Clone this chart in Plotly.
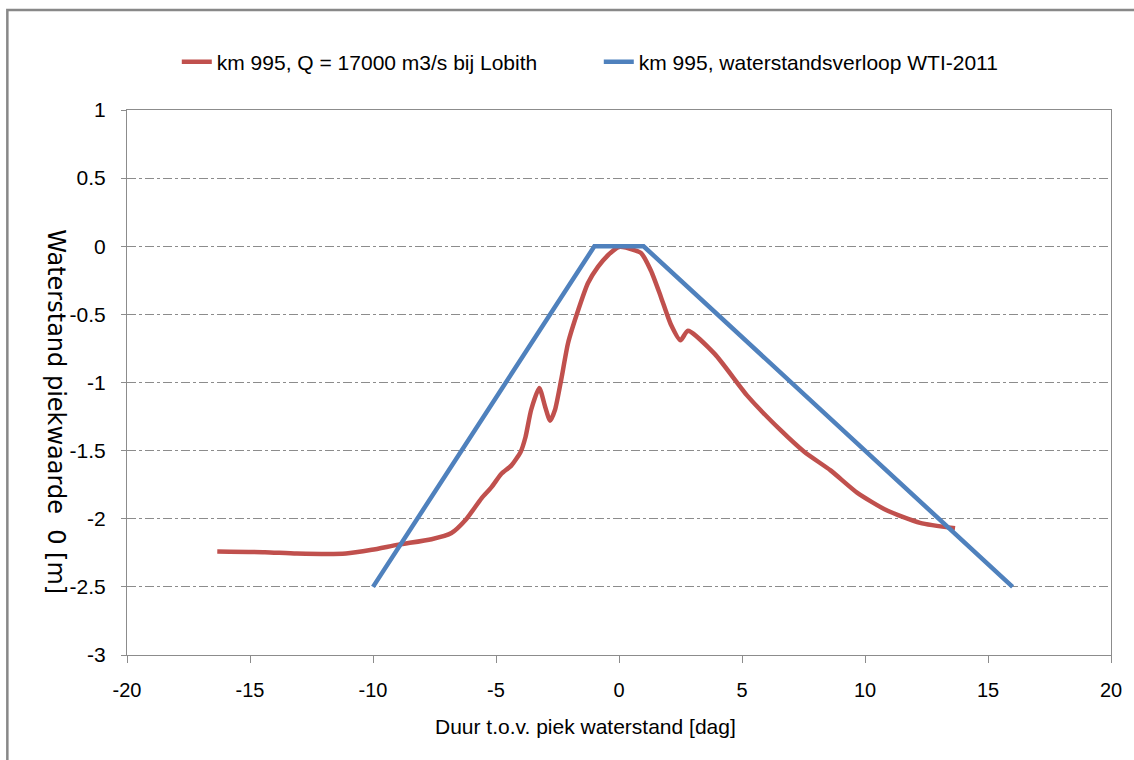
import plotly.graph_objects as go

# Data
red_x = [-16.33, -14.4, -13.1, -11.1, -10.05, -8.96, -7.62, -6.81, -6.24, -5.59, -5.19,
         -4.78, -4.38, -4.0, -3.8, -3.57, -3.24, -3.0, -2.8, -2.6, -2.35, -2.07, -1.66,
         -1.26, -0.85, -0.45, 0.0, 0.65, 0.9, 1.3, 1.7, 2.1, 2.5, 2.8, 3.89, 5.23, 6.57,
         7.54, 8.6, 9.69, 10.9, 12.24, 13.66]
red_y = [-2.24, -2.245, -2.255, -2.255, -2.228, -2.19, -2.15, -2.105, -2.01, -1.85, -1.77,
         -1.67, -1.61, -1.51, -1.40, -1.20, -1.04, -1.18, -1.28, -1.20, -0.98, -0.71, -0.47,
         -0.27, -0.15, -0.066, -0.005, -0.03, -0.05, -0.18, -0.37, -0.57, -0.69, -0.62, -0.79,
         -1.10, -1.35, -1.51, -1.645, -1.81, -1.94, -2.03, -2.07]

blue_x = [-10, -1, 1, 16]
blue_y = [-2.5, 0, 0, -2.5]

red_name = "km 995, Q = 17000 m3/s bij Lobith"
blue_name = "km 995, waterstandsverloop WTI-2011"

x_ticks = [-20, -15, -10, -5, 0, 5, 10, 15, 20]
x_tick_labels = ["-20", "-15", "-10", "-5", "0", "5", "10", "15", "20"]
y_ticks = [1, 0.5, 0, -0.5, -1, -1.5, -2, -2.5, -3]
y_tick_labels = ["1", "0.5", "0", "-0.5", "-1", "-1.5", "-2", "-2.5", "-3"]

x_title = "Duur t.o.v. piek waterstand [dag]"
y_title = "Waterstand piekwaarde\u00a0 0 [m]"

FONT = "Liberation Sans, Arial, sans-serif"
AXIS_COLOR = "#8c8c8c"

fig = go.Figure()
fig.add_trace(go.Scatter(x=red_x, y=red_y, mode="lines", name=red_name,
                         line=dict(color="#C0504D", width=4.5, shape="spline", smoothing=0.6)))
fig.add_trace(go.Scatter(x=blue_x, y=blue_y, mode="lines", name=blue_name,
                         line=dict(color="#4F81BD", width=4.5)))

fig.update_layout(
    width=1134, height=760,
    margin=dict(l=127, r=18, t=110, b=105),
    paper_bgcolor="white", plot_bgcolor="white",
    font=dict(family=FONT, size=19, color="black"),
    showlegend=True,
    legend=dict(orientation="h", x=0.0506, xanchor="left", y=1.088, yanchor="middle",
                font=dict(family=FONT, size=21), itemwidth=30,
                entrywidth=377, entrywidthmode="pixels", bgcolor="rgba(0,0,0,0)"),
    xaxis=dict(range=[-20, 20], tickvals=x_ticks, ticktext=x_tick_labels,
               showgrid=False, zeroline=False, showline=True, linecolor=AXIS_COLOR,
               linewidth=1, mirror=True, ticks="outside", ticklen=7, tickcolor=AXIS_COLOR,
               tickfont=dict(family=FONT, size=20), ticklabelstandoff=10),
    yaxis=dict(range=[-3, 1], tickvals=y_ticks, ticktext=y_tick_labels,
               showgrid=True, gridcolor="#8c8c8c", griddash="dashdot", gridwidth=1,
               zeroline=False, showline=True, linecolor=AXIS_COLOR, linewidth=1, mirror=True,
               ticks="outside", ticklen=5, tickcolor=AXIS_COLOR,
               tickfont=dict(family=FONT, size=21), ticklabelstandoff=11),
    annotations=[
        dict(text=x_title, xref="paper", yref="paper", x=0.466, y=-0.132,
             showarrow=False, font=dict(family=FONT, size=21),
             xanchor="center", yanchor="middle"),
        dict(text=y_title, xref="paper", yref="paper", x=-0.0725, y=0.446,
             showarrow=False, font=dict(family="DejaVu Sans", size=24), textangle=90,
             xanchor="center", yanchor="middle"),
    ],
    shapes=[
        dict(type="rect", xref="paper", yref="paper", x0=-0.1216, x1=1.2,
             y0=-0.5, y1=1.1835, line=dict(color="#888888", width=2.5),
             fillcolor="rgba(0,0,0,0)", layer="below"),
    ],
)

fig.write_html("out.html", config={"displayModeBar": False},
               post_script="document.body.style.margin='0px';")
